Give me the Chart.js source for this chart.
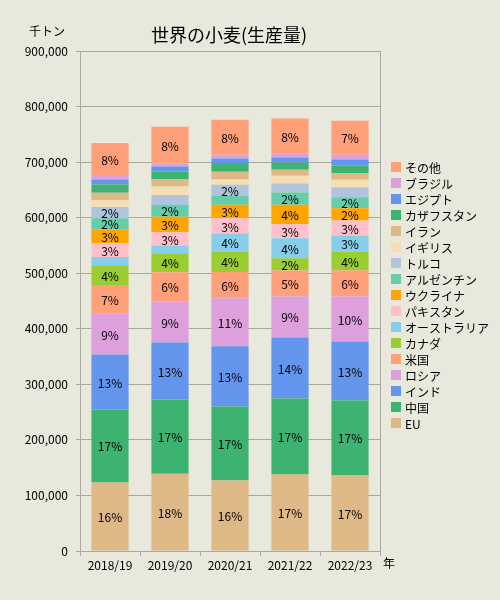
<!DOCTYPE html>
<html lang="ja">
<head>
<meta charset="utf-8">
<title>世界の小麦(生産量)</title>
<script src="https://cdn.jsdelivr.net/npm/chart.js@4/dist/chart.umd.min.js"></script>
<style>
  html, body { margin: 0; padding: 0; background: #e8e8dc; }
  #wrap { width: 500px; height: 600px; }
</style>
</head>
<body>
<div id="wrap"><canvas id="wheat" width="500" height="600"></canvas></div>
<script>
// 単位: 千トン
const years = ["2018/19", "2019/20", "2020/21", "2021/22", "2022/23"];

const eu         = [123500, 139200, 127100, 137900, 136100];
const china      = [131300, 133600, 133100, 136600, 134900];
const india      = [98900, 102500, 108400, 109700, 106100];
const russia     = [73200, 73700, 86300, 74300, 80900];
const usa        = [52000, 52700, 47500, 46200, 46700];
const canada     = [34200, 34200, 36500, 22100, 34200];
const australia  = [16200, 13800, 32400, 36000, 28800];
const pakistan   = [24600, 23900, 27500, 25900, 27000];
const ukraine    = [25200, 28200, 24600, 34700, 22100];
const argentina  = [19800, 21000, 16200, 22100, 19800];
const turkey     = [20300, 18000, 19800, 16200, 18000];
const uk         = [12000, 15500, 9500, 13800, 13800];
const iran       = [13800, 13300, 13800, 10800, 12000];
const kazakhstan = [14900, 13700, 15600, 13100, 13100];
const egypt      = [9000, 9000, 8300, 9000, 11300];
const brazil     = [5900, 5400, 6700, 7200, 8500];
const others     = [59500, 66000, 62900, 63000, 61100];

const countries = ["EU", "中国", "インド", "ロシア", "米国", "カナダ", "オーストラリア",
  "パキスタン", "ウクライナ", "アルゼンチン", "トルコ", "イギリス", "イラン",
  "カザフスタン", "エジプト", "ブラジル", "その他"];
const series = [eu, china, india, russia, usa, canada, australia, pakistan, ukraine,
  argentina, turkey, uk, iran, kazakhstan, egypt, brazil, others];
const palette = ["#deb887", "#3cb371", "#6495ed", "#dda0dd", "#ffa07a", "#9acd32",
  "#87ceeb", "#ffc0cb", "#ffa500", "#66cdaa", "#b0c4de", "#f5deb3"];

const FONT = '"Noto Sans CJK JP", "Noto Sans", sans-serif';
const GRID = "#a8a8a0";
Chart.defaults.font.family = FONT;
Chart.defaults.font.size = 12;
Chart.defaults.color = "#000";

const datasets = countries.map((name, i) => ({
  label: name,
  data: series[i],
  backgroundColor: palette[i % palette.length],
  borderWidth: 0,
  barPercentage: 0.62,
  categoryPercentage: 1.0
}));

// 年ごとの合計 (割合ラベル用)
const totals = years.map((_, j) => series.reduce((s, arr) => s + arr[j], 0));

const extras = {
  id: "extras",
  beforeDraw(chart) {
    const c = chart.ctx;
    c.save();
    c.fillStyle = "#e8e8dc";
    c.fillRect(0, 0, chart.width, chart.height);
    c.restore();
  },
  afterDatasetsDraw(chart) {
    const c = chart.ctx;
    c.save();
    c.font = "12px " + FONT;
    c.fillStyle = "#000";
    c.textAlign = "center";
    c.textBaseline = "middle";
    chart.data.datasets.forEach((ds, i) => {
      const meta = chart.getDatasetMeta(i);
      meta.data.forEach((bar, j) => {
        const pct = ds.data[j] / totals[j] * 100;
        if (pct < 2.5) return;
        const p = bar.getProps(["x", "y", "base"], true);
        c.fillText(Math.floor(pct) + "%", p.x, (p.y + p.base) / 2 + 1);
      });
    });
    c.restore();
  },
  afterDraw(chart) {
    const c = chart.ctx;
    const a = chart.chartArea;
    c.save();
    // 右枠
    c.strokeStyle = GRID;
    c.lineWidth = 1;
    c.beginPath();
    c.moveTo(a.right + 0.5, a.top);
    c.lineTo(a.right + 0.5, a.bottom);
    c.stroke();

    c.fillStyle = "#000";
    c.textBaseline = "middle";
    c.textAlign = "center";
    c.font = "18px " + FONT;
    c.fillText("世界の小麦(生産量)", 229, 35);
    c.font = "12px " + FONT;
    c.fillText("千トン", 47, 31);
    c.fillText("年", 389, 563);

    // 凡例 (上から その他 → EU)
    c.textAlign = "left";
    const ds = chart.data.datasets;
    for (let k = 0; k < ds.length; k++) {
      const d = ds[ds.length - 1 - k];
      const y = 167 + k * 16;
      c.fillStyle = d.backgroundColor;
      c.fillRect(391, y - 5, 10, 10);
      c.fillStyle = "#000";
      c.fillText(d.label, 405, y + 1);
    }
    c.restore();
  }
};

new Chart(document.getElementById("wheat"), {
  type: "bar",
  data: { labels: years, datasets: datasets },
  options: {
    responsive: false,
    animation: false,
    layout: { padding: { top: 51, right: 120, bottom: 19, left: 0 } },
    plugins: {
      legend: { display: false },
      title: { display: false },
      tooltip: { enabled: false }
    },
    scales: {
      x: {
        stacked: true,
        afterFit(s) { s.height = 30; },
        grid: { offset: true, drawOnChartArea: false, color: GRID, tickLength: 5 },
        border: { color: GRID },
        ticks: { padding: 2, font: { size: 12 } }
      },
      y: {
        stacked: true,
        min: 0,
        max: 900000,
        afterFit(s) { s.width = 80; },
        grid: { color: GRID, tickLength: 4 },
        border: { color: GRID },
        ticks: {
          stepSize: 100000,
          padding: 8,
          font: { size: 12 },
          callback: v => v.toLocaleString("en-US")
        }
      }
    }
  },
  plugins: [extras]
});
</script>
</body>
</html>
